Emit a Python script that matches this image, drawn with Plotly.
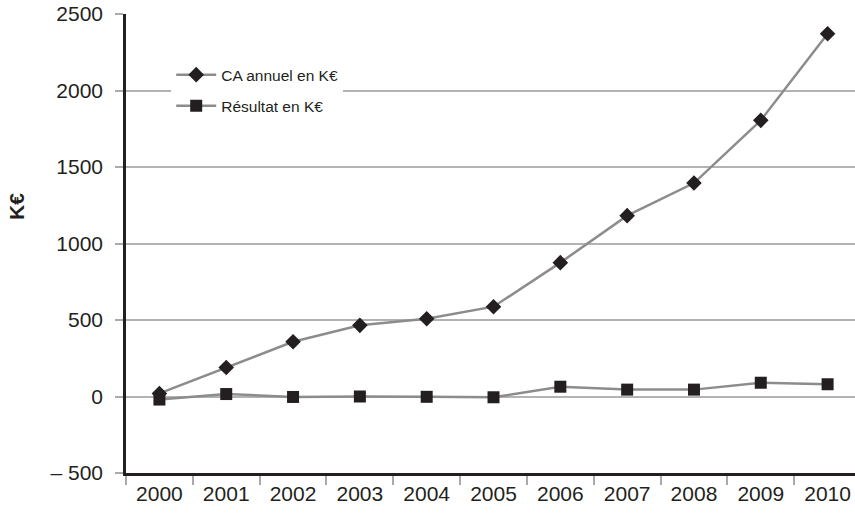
import plotly.graph_objects as go

years = ["2000", "2001", "2002", "2003", "2004", "2005", "2006", "2007", "2008", "2009", "2010"]
ca_annuel = [20, 190, 358, 465, 508, 587, 875, 1182, 1395, 1805, 2371]
resultat = [-20, 16, -3, 0, -2, -5, 64, 45, 45, 90, 80]
y_ticks = [-500, 0, 500, 1000, 1500, 2000, 2500]
y_tick_labels = ["\u2013 500", "0", "500", "1000", "1500", "2000", "2500"]

FONT = "Liberation Sans, Arial, Helvetica, sans-serif"
LINE = "#8c8c8c"
MARK = "#231f20"

fig = go.Figure()
fig.add_trace(go.Scatter(
    x=years, y=ca_annuel, name="CA annuel en K\u20ac", mode="lines+markers",
    legendgroup="a",
    line=dict(color=LINE, width=2.5),
    marker=dict(symbol="diamond", size=12, color=MARK),
))
fig.add_trace(go.Scatter(
    x=years, y=resultat, name="R\u00e9sultat en K\u20ac", mode="lines+markers",
    legendgroup="b",
    line=dict(color=LINE, width=2.5),
    marker=dict(symbol="square", size=12, color=MARK),
))

fig.update_layout(
    width=855, height=514,
    margin=dict(l=126, r=0, t=14, b=41, autoexpand=False),
    paper_bgcolor="white", plot_bgcolor="white",
    font=dict(family=FONT, color="#231f20"),
    showlegend=True,
    legend=dict(
        x=0.062, y=0.904, xanchor="left", yanchor="top",
        bgcolor="white", font=dict(size=15.5, family=FONT, color="#231f20"),
        tracegroupgap=8, itemwidth=40,
    ),
    xaxis=dict(
        type="category", range=[-0.5, 10.41], automargin=False,
        tickson="boundaries", ticks="outside", ticklen=9, tickcolor="#aaaaaa", tickwidth=1.5,
        showgrid=False, showline=True, linecolor=MARK, linewidth=2.5,
        tickfont=dict(size=21, family=FONT, color="#231f20"),
    ),
    yaxis=dict(
        range=[-500, 2500], tickvals=y_ticks, ticktext=y_tick_labels, automargin=False,
        ticks="outside", ticklen=8, tickcolor="#aaaaaa", tickwidth=1.5,
        ticklabelstandoff=8,
        showgrid=True, gridcolor="#b3b3b3", gridwidth=1.5,
        zeroline=False,
        showline=True, linecolor=MARK, linewidth=2.5,
        tickfont=dict(size=21, family=FONT, color="#231f20"),
    ),
    annotations=[dict(
        text="<b>K\u20ac</b>", textangle=-90, xref="paper", yref="paper",
        x=(16 - 126) / 729, y=(473 - 207) / 459, xanchor="center", yanchor="middle",
        showarrow=False,
        font=dict(size=21, family=FONT, color="#231f20"),
    )],
)

fig.write_html(
    "out.html",
    config={"displayModeBar": False},
    post_script="document.body.style.margin='0px';document.body.style.overflow='hidden';",
)
